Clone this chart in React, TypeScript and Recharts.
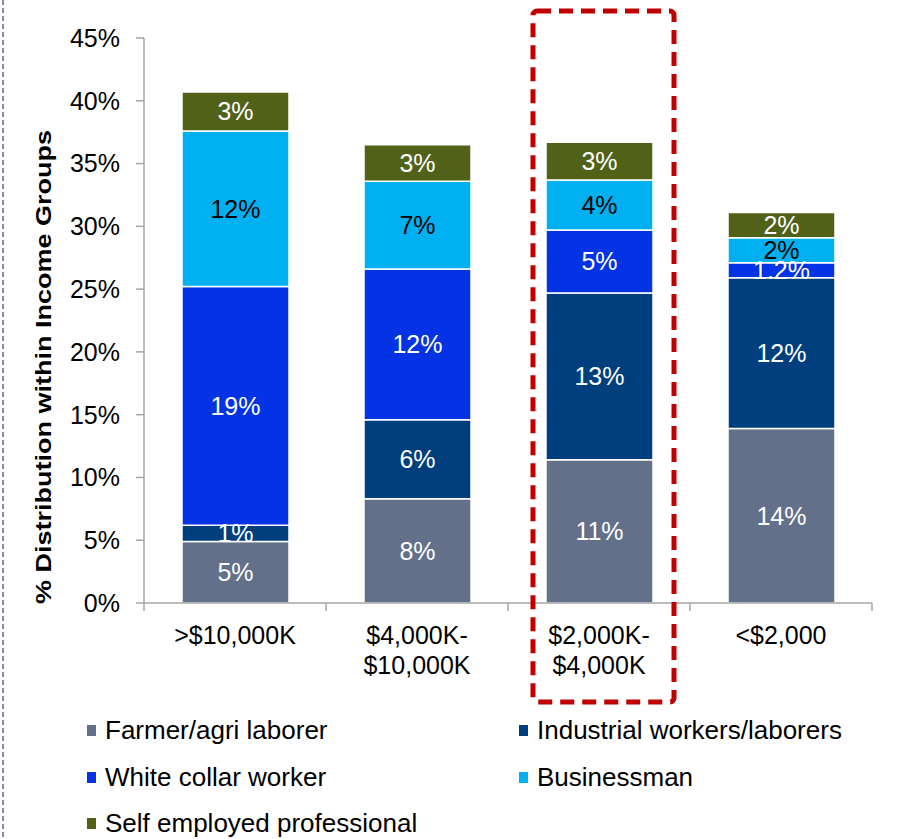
import { Bar, BarChart, LabelList, XAxis, YAxis } from "recharts";

const categories = [">$10,000K", "$4,000K-\n$10,000K", "$2,000K-\n$4,000K", "<$2,000"];
const farmer = [4.9, 8.3, 11.4, 13.9];
const industrial = [1.3, 6.3, 13.3, 12.0];
const whiteCollar = [19.0, 12.0, 5.0, 1.2];
const businessman = [12.4, 7.0, 4.0, 2.0];
const selfEmployed = [3.1, 2.9, 3.0, 2.0];

const farmerLabels = ["5%", "8%", "11%", "14%"];
const industrialLabels = ["1%", "6%", "13%", "12%"];
const whiteCollarLabels = ["19%", "12%", "5%", "1.2%"];
const businessmanLabels = ["12%", "7%", "4%", "2%"];
const selfEmployedLabels = ["3%", "3%", "3%", "2%"];

const yTicks = [0, 5, 10, 15, 20, 25, 30, 35, 40, 45];

const series = [
  { key: "farmer", name: "Farmer/agri laborer", color: "#637089", text: "#fff" },
  { key: "industrial", name: "Industrial workers/laborers", color: "#003F7E", text: "#fff" },
  { key: "whiteCollar", name: "White collar worker", color: "#0333E4", text: "#fff" },
  { key: "businessman", name: "Businessman", color: "#00B0F0", text: "#000" },
  { key: "selfEmployed", name: "Self employed professional", color: "#526118", text: "#fff" },
];

const rows = categories.map((c, i) => ({
  cat: c,
  farmer: farmer[i],
  industrial: industrial[i],
  whiteCollar: whiteCollar[i],
  businessman: businessman[i],
  selfEmployed: selfEmployed[i],
  farmerLabel: farmerLabels[i],
  industrialLabel: industrialLabels[i],
  whiteCollarLabel: whiteCollarLabels[i],
  businessmanLabel: businessmanLabels[i],
  selfEmployedLabel: selfEmployedLabels[i],
}));

const FONT = '"Liberation Sans", Arial, sans-serif';
const W = 902;
const PLOT_LEFT = 144;
const PLOT_RIGHT = 872;
const BW = (PLOT_RIGHT - PLOT_LEFT) / categories.length;

function CatTick(props: any) {
  const { x, y, payload, index } = props;
  const lines = String(payload.value).split("\n");
  return (
    <g>
      <line x1={x - BW / 2} x2={x - BW / 2} y1={y - 8} y2={y} stroke="#A6A6A6" strokeWidth={1.5} />
      {index === categories.length - 1 && (
        <line x1={x + BW / 2} x2={x + BW / 2} y1={y - 8} y2={y} stroke="#A6A6A6" strokeWidth={1.5} />
      )}
      {lines.map((l, i) => (
        <text key={i} x={x} y={y + 33 + i * 30} textAnchor="middle" fontSize={25} fill="#000" fontFamily={FONT}>
          {l}
        </text>
      ))}
    </g>
  );
}

export default function App() {
  return (
    <div style={{ position: "absolute", left: 0, top: 0, width: W, height: 839, background: "#fff", fontFamily: FONT }}>
      <BarChart width={W} height={700} data={rows} margin={{ top: 38, right: W - PLOT_RIGHT, left: 0, bottom: 0 }}>
        <XAxis
          dataKey="cat"
          height={97}
          interval={0}
          tickLine={false}
          axisLine={{ stroke: "#A6A6A6", strokeWidth: 1.5 }}
          tick={<CatTick />}
        />
        <YAxis
          width={PLOT_LEFT}
          domain={[0, 45]}
          ticks={yTicks}
          tickFormatter={(v) => `${v}%`}
          axisLine={{ stroke: "#A6A6A6", strokeWidth: 1.5 }}
          tickLine={{ stroke: "#A6A6A6", strokeWidth: 1.5 }}
          tickSize={8}
          tickMargin={16}
          tick={{ fontSize: 25, fill: "#000", fontFamily: FONT }}
        />
        {series.map((s) => (
          <Bar
            key={s.key}
            dataKey={s.key}
            stackId="a"
            fill={s.color}
            stroke="#fff"
            strokeWidth={1.5}
            barSize={107}
            isAnimationActive={false}
          >
            <LabelList dataKey={`${s.key}Label`} position="center" fill={s.text} fontSize={25} fontFamily={FONT} />
          </Bar>
        ))}
      </BarChart>

      <div
        style={{
          position: "absolute",
          left: 44,
          top: 367,
          transform: "translate(-50%, -50%) rotate(-90deg) scale(1, 0.8)",
          whiteSpace: "nowrap",
          fontWeight: "bold",
          fontSize: 27,
        }}
      >
        % Distribution within Income Groups
      </div>

      <svg width={W} height={839} style={{ position: "absolute", left: 0, top: 0, pointerEvents: "none" }}>
        <line x1={3} x2={3} y1={0} y2={839} stroke="#7F8EA9" strokeWidth={2} strokeDasharray="5 3" />
        <rect
          x={PLOT_LEFT + 2 * BW + 25}
          y={11}
          width={BW - 41}
          height={691}
          rx={4}
          fill="none"
          stroke="#C00000"
          strokeWidth={5}
          strokeDasharray="14 8"
        />
      </svg>

      {series.map((s, i) => (
        <div
          key={s.key}
          style={{
            position: "absolute",
            left: i % 2 === 0 ? 87 : 519,
            top: 715 + Math.floor(i / 2) * 46.5,
            display: "flex",
            alignItems: "center",
            fontSize: 26,
            whiteSpace: "nowrap",
          }}
        >
          <span style={{ display: "inline-block", width: 9, height: 11, background: s.color, marginRight: 9 }} />
          {s.name}
        </div>
      ))}
    </div>
  );
}
